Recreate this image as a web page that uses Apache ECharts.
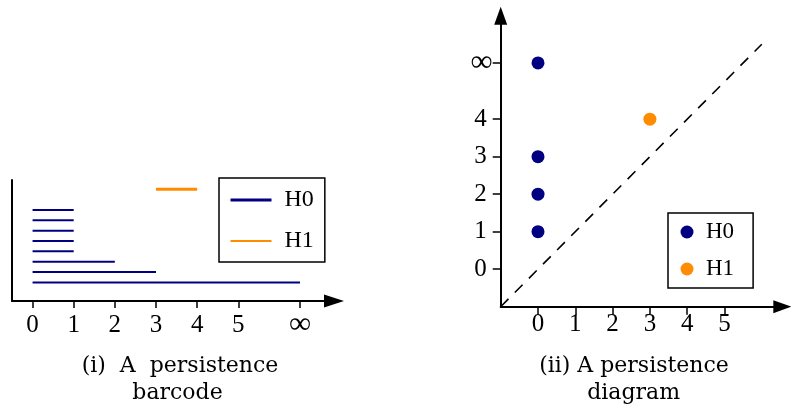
<!DOCTYPE html>
<html>
<head>
<meta charset="utf-8">
<script src="https://cdn.jsdelivr.net/npm/echarts@6/dist/echarts.min.js"></script>
<style>
  html, body { margin: 0; padding: 0; background: #fff; }
  #chart { width: 791px; height: 411px; }
</style>
</head>
<body>
<div id="chart"></div>
<script>
// Persistence intervals [birth, death]; 'inf' marks a class that never dies.
// Listed top to bottom as they are stacked in the barcode.
const h0Intervals = [[0, 1], [0, 1], [0, 1], [0, 1], [0, 1], [0, 2], [0, 3], [0, 'inf']];
const h1Intervals = [[3, 4]];

// The same classes as (birth, death) points.
const h0Points = [[0, 1], [0, 2], [0, 3], [0, 'inf']];
const h1Points = [[3, 4]];

// Tick labels.
const barcodeTicks = [0, 1, 2, 3, 4, 5, 'inf'];
const diagramXTicks = [0, 1, 2, 3, 4, 5];
const diagramYTicks = [0, 1, 2, 3, 4, 'inf'];

// Birth = death reference line.
const diagonal = [[-1, -1], [6, 6]];

const NAVY = '#000080';
const ORANGE = '#ff8c00';
const TICK_FONT = 'Liberation Serif';
const CAPTION_FONT = 'DejaVu Serif';

// Axis positions used for the point at infinity.
const INF_BAR = 6.5;
const INF_DIAG = 5.5;
const toBar = v => (v === 'inf' ? INF_BAR : v);
const toDiag = v => (v === 'inf' ? INF_DIAG : v);

const labelFor = infPos => v =>
  Math.abs(v - infPos) < 1e-6 ? '{inf|∞}' : '{n|' + v + '}';

const axisArrow = size => ({
  show: true,
  onZero: false,
  symbol: ['none', 'triangle'],
  symbolSize: size,
  lineStyle: { color: '#000', width: 2 }
});

// One line per interval in the barcode.
const barSeries = [];
h0Intervals.forEach((iv, i) => {
  const row = h0Intervals.length - 1 - i;
  barSeries.push({
    type: 'line', name: 'H0', xAxisIndex: 0, yAxisIndex: 0,
    color: NAVY, symbol: 'none', silent: true,
    lineStyle: { width: 2, cap: 'butt' },
    data: [[toBar(iv[0]), row], [toBar(iv[1]), row]]
  });
});
h1Intervals.forEach((iv, i) => {
  const row = h0Intervals.length + 1 + i;
  barSeries.push({
    type: 'line', name: 'H1', xAxisIndex: 0, yAxisIndex: 0,
    color: ORANGE, symbol: 'none', silent: true,
    lineStyle: { width: 3, cap: 'butt' },
    data: [[toBar(iv[0]), row], [toBar(iv[1]), row]]
  });
});

const diagramSeries = [
  {
    type: 'line', name: 'diagonal', xAxisIndex: 1, yAxisIndex: 1,
    symbol: 'none', silent: true, color: '#000',
    lineStyle: { width: 1.6, type: [11, 9] },
    data: diagonal
  },
  {
    type: 'scatter', name: 'H0 diagram', xAxisIndex: 1, yAxisIndex: 1,
    color: NAVY, symbol: 'circle', symbolSize: 13, silent: true,
    itemStyle: { opacity: 1 },
    data: h0Points.map(p => [p[0], toDiag(p[1])])
  },
  {
    type: 'scatter', name: 'H1 diagram', xAxisIndex: 1, yAxisIndex: 1,
    color: ORANGE, symbol: 'circle', symbolSize: 13, silent: true,
    itemStyle: { opacity: 1 },
    data: h1Points.map(p => [p[0], toDiag(p[1])])
  }
];

const richTicks = {
  n: { fontFamily: TICK_FONT, fontSize: 25, lineHeight: 24, color: '#000' },
  inf: { fontFamily: TICK_FONT, fontSize: 31, lineHeight: 24, color: '#000' }
};

const chart = echarts.init(document.getElementById('chart'), null, { renderer: 'canvas' });

chart.setOption({
  animation: false,
  backgroundColor: '#fff',
  grid: [
    { left: 12, top: 180, width: 322, height: 121 },
    { left: 500.7, top: 15.7, width: 281.6, height: 291 }
  ],
  xAxis: [
    {
      type: 'value', gridIndex: 0, min: -0.5, max: 7.327,
      axisLine: axisArrow([13, 20]),
      splitLine: { show: false },
      axisTick: {
        show: true, inside: false, length: 7,
        customValues: barcodeTicks.map(toBar),
        lineStyle: { color: '#000', width: 1.5 }
      },
      axisLabel: {
        show: true, margin: 12,
        customValues: barcodeTicks.map(toBar),
        formatter: labelFor(INF_BAR), rich: richTicks
      }
    },
    {
      type: 'value', gridIndex: 1, min: -1, max: 6.55,
      axisLine: axisArrow([13, 18]),
      splitLine: { show: false },
      axisTick: {
        show: true, inside: false, length: 8,
        customValues: diagramXTicks,
        lineStyle: { color: '#000', width: 1.5 }
      },
      axisLabel: {
        show: true, margin: 6,
        customValues: diagramXTicks,
        formatter: v => '{n|' + v + '}', rich: richTicks
      }
    }
  ],
  yAxis: [
    {
      type: 'value', gridIndex: 0, min: -1.8, max: 9.9,
      axisLine: { show: true, onZero: false, lineStyle: { color: '#000', width: 2 } },
      axisTick: { show: false },
      axisLabel: { show: false },
      splitLine: { show: false }
    },
    {
      type: 'value', gridIndex: 1, min: -1, max: 6.76,
      axisLine: axisArrow([13, 18]),
      splitLine: { show: false },
      axisTick: {
        show: true, inside: false, length: 8,
        customValues: diagramYTicks.map(toDiag),
        lineStyle: { color: '#000', width: 1.5 }
      },
      axisLabel: {
        show: true, margin: 8,
        customValues: diagramYTicks.map(toDiag),
        formatter: labelFor(INF_DIAG),
        rich: {
          n: { fontFamily: TICK_FONT, fontSize: 25, lineHeight: 24, color: '#000', padding: [0, 6, 0, 0] },
          inf: { fontFamily: TICK_FONT, fontSize: 31, lineHeight: 24, color: '#000' }
        }
      }
    }
  ],
  legend: [
    {
      orient: 'vertical', left: 219, top: 178,
      padding: [10, 11, 9, 10], itemGap: 17,
      itemWidth: 41, itemHeight: 24,
      borderColor: '#000', borderWidth: 1.5,
      selectedMode: false,
      data: [
        { name: 'H0', lineStyle: { width: 3 }, itemStyle: { opacity: 0 } },
        { name: 'H1', lineStyle: { width: 2 }, itemStyle: { opacity: 0 } }
      ],
      textStyle: { fontFamily: TICK_FONT, fontSize: 24, lineHeight: 24, color: '#000', padding: [0, 0, 0, 8] }
    },
    {
      orient: 'vertical', left: 668, top: 213,
      padding: [7.5, 19, 7.5, 12.5], itemGap: 14,
      itemWidth: 13, itemHeight: 13, icon: 'circle',
      borderColor: '#000', borderWidth: 1.5,
      selectedMode: false,
      data: ['H0 diagram', 'H1 diagram'],
      formatter: name => name.split(' ')[0],
      textStyle: { fontFamily: TICK_FONT, fontSize: 23, lineHeight: 23, color: '#000', padding: [0, 0, 0, 7.5] }
    }
  ],
  graphic: [
    { type: 'text', x: 180, y: 366.7, style: { text: '(i)  A  persistence', font: '22px "' + CAPTION_FONT + '"', fill: '#000', align: 'center', verticalAlign: 'middle' } },
    { type: 'text', x: 177.5, y: 393.4, style: { text: 'barcode', font: '22px "' + CAPTION_FONT + '"', fill: '#000', align: 'center', verticalAlign: 'middle' } },
    { type: 'text', x: 634, y: 366.7, style: { text: '(ii) A persistence', font: '22px "' + CAPTION_FONT + '"', fill: '#000', align: 'center', verticalAlign: 'middle' } },
    { type: 'text', x: 633.6, y: 393.4, style: { text: 'diagram', font: '22px "' + CAPTION_FONT + '"', fill: '#000', align: 'center', verticalAlign: 'middle' } }
  ],
  series: barSeries.concat(diagramSeries)
});
</script>
</body>
</html>
